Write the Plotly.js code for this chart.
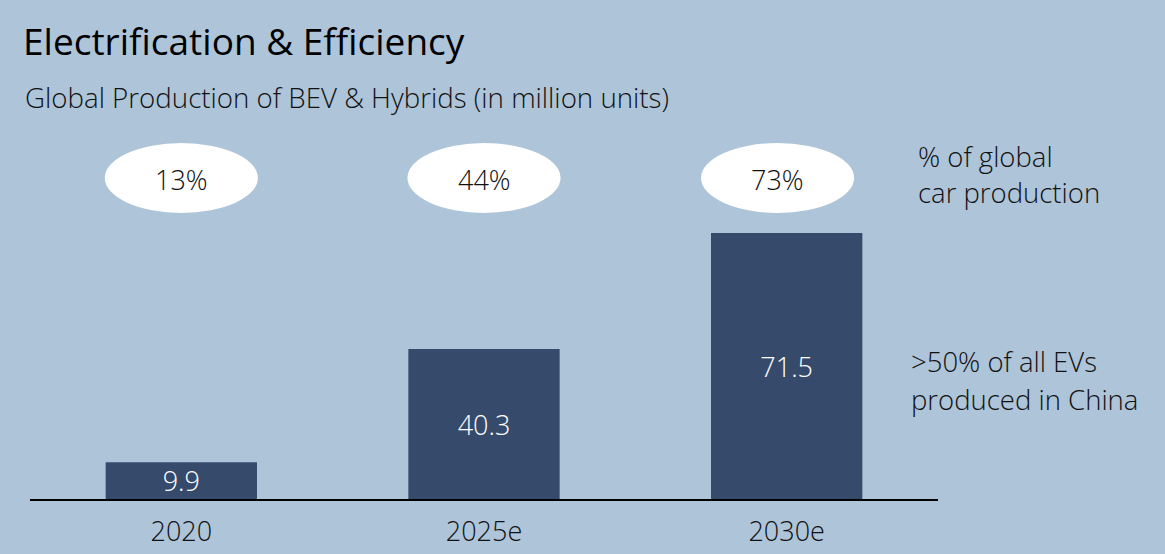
<!DOCTYPE html>
<html>
<head>
<meta charset="utf-8">
<script src="https://cdn.plot.ly/plotly-3.0.1.min.js"></script>
<style>html,body{margin:0;padding:0;background:#adc4d9;}#chart{width:1165px;height:554px;}</style>
</head>
<body>
<div id="chart"></div>
<script>
const categories = ["2020", "2025e", "2030e"];
const production = [9.9, 40.3, 71.5];
const shareLabels = ["13%", "44%", "73%"];
const noteTop = ["% of global", "car production"];
const noteBottom = [">50% of all EVs", "produced in China"];

const FONT = "Open Sans, Noto Sans, sans-serif";
const BG = "#adc4d9";
const BAR = "#364b6c";
const LIGHT = 300;

const W = 1165, H = 554;
const L = 30, R = 227, T = 127, B = 55;
const plotW = W - L - R, plotH = H - T - B;
function px2paperX(px){ return (px - L) / plotW; }
function px2paperY(py){ return (H - B - py) / plotH; }

const trace = {
  type: "bar",
  x: categories,
  y: production,
  width: 0.5,
  marker: {color: BAR, line: {width: 0}},
  text: production.map(v => v.toFixed(1)),
  textposition: "inside",
  insidetextanchor: "middle",
  constraintext: "none",
  textfont: {family: FONT, size: 27, color: "#ffffff", weight: LIGHT},
  hoverinfo: "skip"
};

const ellipseOffsets = [0, 0, -0.03];
const shapes = categories.map((c, i) => ({
  type: "circle",
  xref: "x", yref: "y",
  x0: i + ellipseOffsets[i] - 0.253, x1: i + ellipseOffsets[i] + 0.253,
  y0: 76.9, y1: 95.7,
  fillcolor: "#ffffff",
  line: {width: 0},
  layer: "above"
}));

const annotations = [];
shareLabels.forEach((s, i) => {
  annotations.push({
    xref: "x", yref: "y",
    x: i + ellipseOffsets[i], y: 86.0,
    text: s, showarrow: false,
    font: {family: FONT, size: 27, color: "#111111", weight: LIGHT},
    xanchor: "center", yanchor: "middle"
  });
});
noteTop.forEach((t, i) => {
  annotations.push({
    xref: "paper", yref: "paper",
    x: px2paperX(916), y: px2paperY(156 + i * 36),
    text: t, showarrow: false,
    font: {family: FONT, size: 27.5, color: "#111111", weight: LIGHT},
    xanchor: "left", yanchor: "middle"
  });
});
noteBottom.forEach((t, i) => {
  annotations.push({
    xref: "paper", yref: "paper",
    x: px2paperX(909), y: px2paperY(361 + i * 38),
    text: t, showarrow: false,
    font: {family: FONT, size: 27.5, color: "#111111", weight: LIGHT},
    xanchor: "left", yanchor: "middle"
  });
});
annotations.push({
  xref: "paper", yref: "paper",
  x: px2paperX(23), y: px2paperY(97),
  text: "Global Production of BEV &amp; Hybrids (in million units)",
  showarrow: false,
  font: {family: FONT, size: 27.7, color: "#111111", weight: LIGHT},
  xanchor: "left", yanchor: "middle"
});

const layout = {
  width: W, height: H,
  margin: {l: L, r: R, t: T, b: B, pad: 0},
  paper_bgcolor: BG,
  plot_bgcolor: BG,
  showlegend: false,
  title: {
    text: "Electrification &amp; Efficiency",
    xref: "container", yref: "container",
    x: 23 / W, y: 1 - 42 / H,
    xanchor: "left", yanchor: "middle",
    font: {family: FONT, size: 37, color: "#000000"}
  },
  xaxis: {
    type: "category",
    range: [-0.5, 2.5],
    showline: true, linecolor: "#000000", linewidth: 2,
    showgrid: false, zeroline: false,
    ticks: "", ticklen: 0,
    ticklabelstandoff: 8,
    tickfont: {family: FONT, size: 27, color: "#111111", weight: LIGHT},
    fixedrange: true
  },
  yaxis: {
    range: [0, 100],
    visible: false,
    showgrid: false, zeroline: false,
    fixedrange: true
  },
  bargap: 0.5,
  shapes: shapes,
  annotations: annotations
};

Plotly.newPlot("chart", [trace], layout, {displayModeBar: false, staticPlot: true});
</script>
</body>
</html>
